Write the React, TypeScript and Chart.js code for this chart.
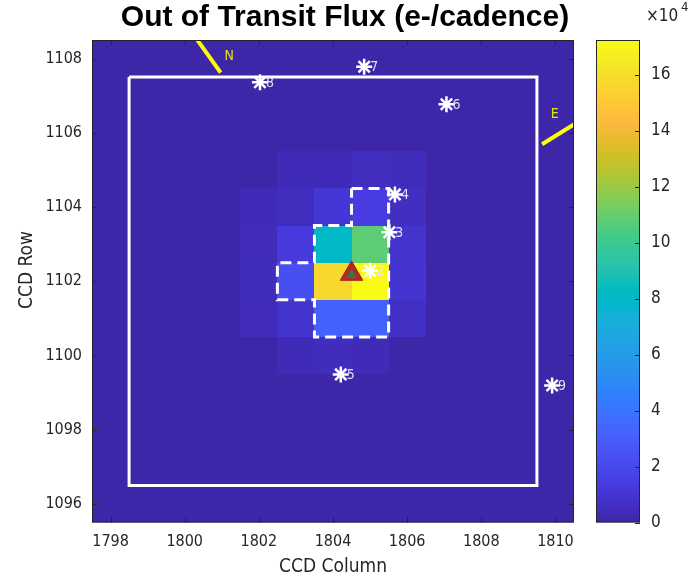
import React, { useEffect, useRef } from 'react';
import { Chart, registerables } from 'chart.js';

Chart.register(...registerables);

// ---------- data ----------
const GRID_COLUMNS = [1798, 1799, 1800, 1801, 1802, 1803, 1804, 1805, 1806, 1807, 1808, 1809, 1810];
const GRID_ROWS = [1096, 1097, 1098, 1099, 1100, 1101, 1102, 1103, 1104, 1105, 1106, 1107, 1108];
const X_TICKS = [1798, 1800, 1802, 1804, 1806, 1808, 1810];
const Y_TICKS = [1096, 1098, 1100, 1102, 1104, 1106, 1108];

// flux (e-/cadence) of the collected pixels; every other pixel is 0
const PIXEL_COLUMNS = [1802, 1803, 1804, 1805, 1806];
const PIXEL_ROWS = [1105, 1104, 1103, 1102, 1101, 1100];
const FLUX_ROW_1105 = [0, 3500, 3500, 5000, 4500];
const FLUX_ROW_1104 = [3500, 5000, 11000, 14000, 6000];
const FLUX_ROW_1103 = [4000, 13000, 81000, 108000, 9000];
const FLUX_ROW_1102 = [4500, 23000, 157000, 172400, 9500];
const FLUX_ROW_1101 = [4000, 9000, 32000, 32000, 6500];
const FLUX_ROW_1100 = [0, 3500, 4500, 3500, 0];
const FLUX_ROWS = [FLUX_ROW_1105, FLUX_ROW_1104, FLUX_ROW_1103, FLUX_ROW_1102, FLUX_ROW_1101, FLUX_ROW_1100];

const COLORBAR_TICKS = [0, 20000, 40000, 60000, 80000, 100000, 120000, 140000, 160000];

// optimal aperture outline (pixel edges)
const APERTURE_X = [1804.5, 1805.5, 1805.5, 1803.5, 1803.5, 1802.5, 1802.5, 1803.5, 1803.5, 1804.5, 1804.5];
const APERTURE_Y = [1104.5, 1104.5, 1100.5, 1100.5, 1101.5, 1101.5, 1102.5, 1102.5, 1103.5, 1103.5, 1104.5];

// mask box
const MASK_X = [1798.5, 1809.5, 1809.5, 1798.5, 1798.5];
const MASK_Y = [1107.5, 1107.5, 1096.5, 1096.5, 1107.5];

// nearby stars
const STAR_IDS = ['2', '3', '4', '5', '6', '7', '8', '9'];
const STAR_COLS = [1805.0, 1805.52, 1805.67, 1804.21, 1807.06, 1804.84, 1802.03, 1809.91];
const STAR_ROWS = [1102.28, 1103.32, 1104.34, 1099.49, 1106.77, 1107.78, 1107.36, 1099.19];

// centroids
const CENTROID_COL = [1804.5];
const CENTROID_ROW = [1102.2];

// compass arrows
const NORTH_X = [1800.27, 1800.97];
const NORTH_Y = [1108.6, 1107.62];
const EAST_X = [1809.64, 1810.6];
const EAST_Y = [1105.69, 1106.29];
const NORTH_LABEL = { x: 1801.2, y: 1108.07, text: 'N' };
const EAST_LABEL = { x: 1809.98, y: 1106.5, text: 'E' };

// ---------- colormap (parula) ----------
const PARULA = [
  [0.2422, 0.1504, 0.6603], [0.2504, 0.1650, 0.7076], [0.2578, 0.1818, 0.7511], [0.2647, 0.1978, 0.7952],
  [0.2706, 0.2147, 0.8364], [0.2751, 0.2342, 0.8710], [0.2783, 0.2559, 0.8991], [0.2803, 0.2782, 0.9221],
  [0.2813, 0.3006, 0.9414], [0.2810, 0.3228, 0.9579], [0.2795, 0.3447, 0.9717], [0.2760, 0.3667, 0.9829],
  [0.2699, 0.3892, 0.9906], [0.2602, 0.4123, 0.9952], [0.2440, 0.4358, 0.9988], [0.2206, 0.4603, 0.9973],
  [0.1963, 0.4847, 0.9892], [0.1834, 0.5074, 0.9798], [0.1786, 0.5289, 0.9682], [0.1764, 0.5499, 0.9520],
  [0.1687, 0.5703, 0.9359], [0.1540, 0.5902, 0.9218], [0.1460, 0.6091, 0.9079], [0.1380, 0.6276, 0.8973],
  [0.1248, 0.6459, 0.8883], [0.1113, 0.6635, 0.8763], [0.0952, 0.6798, 0.8598], [0.0689, 0.6948, 0.8394],
  [0.0297, 0.7082, 0.8163], [0.0036, 0.7203, 0.7917], [0.0067, 0.7312, 0.7660], [0.0433, 0.7411, 0.7394],
  [0.0964, 0.7500, 0.7120], [0.1408, 0.7584, 0.6842], [0.1717, 0.7670, 0.6554], [0.1938, 0.7758, 0.6251],
  [0.2161, 0.7843, 0.5923], [0.2470, 0.7918, 0.5567], [0.2906, 0.7973, 0.5188], [0.3406, 0.8008, 0.4789],
  [0.3909, 0.8029, 0.4354], [0.4456, 0.8024, 0.3909], [0.5044, 0.7993, 0.3480], [0.5616, 0.7942, 0.3045],
  [0.6174, 0.7876, 0.2612], [0.6720, 0.7793, 0.2227], [0.7242, 0.7698, 0.1910], [0.7738, 0.7598, 0.1646],
  [0.8203, 0.7498, 0.1535], [0.8634, 0.7406, 0.1596], [0.9035, 0.7330, 0.1774], [0.9393, 0.7288, 0.2100],
  [0.9728, 0.7298, 0.2394], [0.9956, 0.7434, 0.2371], [0.9970, 0.7659, 0.2199], [0.9952, 0.7893, 0.2028],
  [0.9892, 0.8136, 0.1885], [0.9786, 0.8386, 0.1766], [0.9676, 0.8639, 0.1643], [0.9610, 0.8890, 0.1537],
  [0.9597, 0.9135, 0.1423], [0.9628, 0.9373, 0.1265], [0.9691, 0.9606, 0.1064], [0.9769, 0.9839, 0.0805],
];

function parula(t: number): string {
  const c = Math.max(0, Math.min(1, t)) * (PARULA.length - 1);
  const i = Math.min(PARULA.length - 2, Math.floor(c));
  const f = c - i;
  const a = PARULA[i];
  const b = PARULA[i + 1];
  const r = Math.round(255 * (a[0] + (b[0] - a[0]) * f));
  const g = Math.round(255 * (a[1] + (b[1] - a[1]) * f));
  const bl = Math.round(255 * (a[2] + (b[2] - a[2]) * f));
  return `rgb(${r},${g},${bl})`;
}

const FLUX_MIN = 0;
const FLUX_MAX = Math.max(...FLUX_ROWS.flat());

function fluxAt(col: number, row: number): number {
  const ri = PIXEL_ROWS.indexOf(row);
  const ci = PIXEL_COLUMNS.indexOf(col);
  if (ri < 0 || ci < 0) return 0;
  return FLUX_ROWS[ri][ci];
}

const AXIS_COLOR = '#262626';
const NARROW = '"Liberation Sans Narrow", "DejaVu Sans Condensed", "Liberation Sans", Arial, sans-serif';
const SANS = '"Liberation Sans", Arial, sans-serif';

const heatmapPlugin = {
  id: 'heatmap',
  beforeDatasetsDraw(chart: any) {
    const { ctx, chartArea } = chart;
    const xs = chart.scales.x;
    const ys = chart.scales.y;
    ctx.save();
    ctx.beginPath();
    ctx.rect(chartArea.left, chartArea.top, chartArea.right - chartArea.left, chartArea.bottom - chartArea.top);
    ctx.clip();
    for (const row of GRID_ROWS) {
      for (const col of GRID_COLUMNS) {
        const v = fluxAt(col, row);
        const x0 = Math.round(xs.getPixelForValue(col - 0.5));
        const x1 = Math.round(xs.getPixelForValue(col + 0.5));
        const y0 = Math.round(ys.getPixelForValue(row + 0.5));
        const y1 = Math.round(ys.getPixelForValue(row - 0.5));
        ctx.fillStyle = parula((v - FLUX_MIN) / (FLUX_MAX - FLUX_MIN));
        ctx.fillRect(x0, y0, x1 - x0, y1 - y0);
      }
    }
    ctx.restore();
  },
  afterDatasetsDraw(chart: any) {
    const { ctx, chartArea } = chart;
    const xs = chart.scales.x;
    const ys = chart.scales.y;
    ctx.save();
    ctx.beginPath();
    ctx.rect(chartArea.left, chartArea.top, chartArea.right - chartArea.left, chartArea.bottom - chartArea.top);
    ctx.clip();
    // star labels
    ctx.font = `14px ${NARROW}`;
    ctx.fillStyle = 'rgba(232,232,240,0.95)';
    ctx.textAlign = 'left';
    ctx.textBaseline = 'middle';
    STAR_IDS.forEach((id, i) => {
      ctx.fillText(id, xs.getPixelForValue(STAR_COLS[i]) + 6, ys.getPixelForValue(STAR_ROWS[i]) + 1);
    });
    // compass labels
    ctx.fillStyle = '#E6E600';
    ctx.textAlign = 'center';
    ctx.font = `14px ${NARROW}`;
    for (const l of [NORTH_LABEL, EAST_LABEL]) {
      ctx.fillText(l.text, xs.getPixelForValue(l.x), ys.getPixelForValue(l.y));
    }
    ctx.restore();
  },
  afterDraw(chart: any) {
    const { ctx, chartArea } = chart;
    const xs = chart.scales.x;
    const ys = chart.scales.y;
    const { left, right, top, bottom } = chartArea;
    ctx.save();
    ctx.strokeStyle = AXIS_COLOR;
    ctx.lineWidth = 1;
    ctx.strokeRect(left + 0.5, top + 0.5, right - left - 1, bottom - top - 1);
    ctx.beginPath();
    for (const t of X_TICKS) {
      const px = Math.round(xs.getPixelForValue(t)) + 0.5;
      ctx.moveTo(px, bottom);
      ctx.lineTo(px, bottom - 5);
      ctx.moveTo(px, top);
      ctx.lineTo(px, top + 5);
    }
    for (const t of Y_TICKS) {
      const py = Math.round(ys.getPixelForValue(t)) + 0.5;
      ctx.moveTo(left, py);
      ctx.lineTo(left + 5, py);
      ctx.moveTo(right, py);
      ctx.lineTo(right - 5, py);
    }
    ctx.stroke();
    // title and axis labels
    ctx.fillStyle = '#000';
    ctx.textAlign = 'center';
    ctx.textBaseline = 'middle';
    ctx.font = `bold 30px ${SANS}`;
    ctx.fillText('Out of Transit Flux (e-/cadence)', 345, 18);
    ctx.fillStyle = AXIS_COLOR;
    ctx.font = `19px ${NARROW}`;
    ctx.fillText('CCD Column', (left + right) / 2, 567);
    ctx.translate(27, 270);
    ctx.rotate(-Math.PI / 2);
    ctx.fillText('CCD Row', 0, 0);
    ctx.restore();
  },
};

const colorbarPlugin = {
  id: 'colorbarDecor',
  afterDraw(chart: any) {
    const { ctx, chartArea } = chart;
    const ys = chart.scales.y;
    const { left, right, top, bottom } = chartArea;
    ctx.save();
    ctx.strokeStyle = AXIS_COLOR;
    ctx.lineWidth = 1;
    ctx.strokeRect(left + 0.5, top + 0.5, right - left - 1, bottom - top - 1);
    ctx.beginPath();
    for (const t of COLORBAR_TICKS) {
      const py = Math.round(ys.getPixelForValue(t)) + 0.5;
      ctx.moveTo(right, py);
      ctx.lineTo(right - 5, py);
    }
    ctx.stroke();
    ctx.fillStyle = AXIS_COLOR;
    ctx.textBaseline = 'middle';
    ctx.textAlign = 'left';
    ctx.font = `17px ${NARROW}`;
    ctx.fillText('\u00d710', 66, 17);
    ctx.font = `13px ${NARROW}`;
    ctx.fillText('4', 101, 8);
    ctx.restore();
  },
};

export default function App() {
  const mainRef = useRef<HTMLCanvasElement | null>(null);
  const cbRef = useRef<HTMLCanvasElement | null>(null);

  useEffect(() => {
    if (!mainRef.current || !cbRef.current) return;

    const pts = (xs: number[], ys: number[]) => xs.map((x, i) => ({ x, y: ys[i] }));
    const lineDs = (label: string, data: any[], color: string, width: number, order: number, dash: number[] = []) => ({
      label,
      data,
      showLine: true,
      borderColor: color,
      borderWidth: width,
      borderDash: dash,
      borderCapStyle: 'butt',
      borderJoinStyle: 'miter',
      pointRadius: 0,
      tension: 0,
      fill: false,
      order,
    });

    const main = new Chart(mainRef.current, {
      type: 'scatter',
      data: {
        datasets: [
          {
            label: 'difference centroid',
            data: pts(CENTROID_COL, CENTROID_ROW.map((r) => r - 0.03)),
            pointStyle: 'triangle',
            pointRadius: 5,
            backgroundColor: '#2E7D3A',
            borderColor: '#2E7D3A',
            borderWidth: 1,
            order: 0,
          },
          {
            label: 'out of transit centroid',
            data: pts(CENTROID_COL, CENTROID_ROW),
            pointStyle: 'triangle',
            pointRadius: 13,
            backgroundColor: '#B02A2A',
            borderColor: '#A02626',
            borderWidth: 1,
            order: 1,
          },
          {
            label: 'stars',
            data: pts(STAR_COLS, STAR_ROWS),
            pointStyle: 'star',
            pointRadius: 8,
            borderColor: '#FFFFFF',
            backgroundColor: '#FFFFFF',
            borderWidth: 2.5,
            order: 2,
          },
          lineDs('aperture', pts(APERTURE_X, APERTURE_Y), '#FFFFFF', 3, 3, [11, 6]),
          lineDs('mask', pts(MASK_X, MASK_Y), '#FFFFFF', 3, 4),
          lineDs('north', pts(NORTH_X, NORTH_Y), '#FFFF00', 4, 5),
          lineDs('east', pts(EAST_X, EAST_Y), '#FFFF00', 4, 6),
        ] as any,
      },
      options: {
        responsive: false,
        animation: false,
        devicePixelRatio: 1,
        events: [],
        layout: { padding: { left: 0, top: 40, right: 116, bottom: 0 } },
        plugins: { legend: { display: false }, tooltip: { enabled: false }, title: { display: false } },
        scales: {
          x: {
            type: 'linear',
            min: 1797.5,
            max: 1810.5,
            afterBuildTicks: (s: any) => {
              s.ticks = X_TICKS.map((v) => ({ value: v }));
            },
            afterFit: (s: any) => {
              s.height = 58.5;
            },
            ticks: {
              color: AXIS_COLOR,
              font: { family: NARROW, size: 16 },
              padding: 10,
              maxRotation: 0,
              autoSkip: false,
              callback: (v: any) => String(v),
            },
            grid: { display: false, drawTicks: false },
            border: { display: false },
          },
          y: {
            type: 'linear',
            min: 1095.5,
            max: 1108.5,
            afterBuildTicks: (s: any) => {
              s.ticks = Y_TICKS.map((v) => ({ value: v }));
            },
            afterFit: (s: any) => {
              s.width = 92;
            },
            ticks: {
              color: AXIS_COLOR,
              font: { family: NARROW, size: 16 },
              padding: 10,
              autoSkip: false,
              callback: (v: any) => String(v),
            },
            grid: { display: false, drawTicks: false },
            border: { display: false },
          },
        },
      } as any,
      plugins: [heatmapPlugin],
    });

    const cb = new Chart(cbRef.current, {
      type: 'bar',
      data: {
        labels: ['flux'],
        datasets: [
          {
            label: 'colorbar',
            data: [[FLUX_MIN, FLUX_MAX]],
            barPercentage: 1,
            categoryPercentage: 1,
            borderWidth: 0,
            borderSkipped: false,
            backgroundColor: (c: any) => {
              const area = c.chart.chartArea;
              if (!area) return parula(0.5);
              const g = c.chart.ctx.createLinearGradient(0, area.bottom, 0, area.top);
              PARULA.forEach((_, i) => g.addColorStop(i / (PARULA.length - 1), parula(i / (PARULA.length - 1))));
              return g;
            },
          },
        ] as any,
      },
      options: {
        responsive: false,
        animation: false,
        devicePixelRatio: 1,
        events: [],
        layout: { padding: { left: 16, top: 40, right: 0, bottom: 58.5 } },
        plugins: { legend: { display: false }, tooltip: { enabled: false } },
        scales: {
          x: { display: false },
          y: {
            position: 'right',
            min: FLUX_MIN,
            max: FLUX_MAX,
            afterBuildTicks: (s: any) => {
              s.ticks = COLORBAR_TICKS.map((v) => ({ value: v }));
            },
            afterFit: (s: any) => {
              s.width = 50;
            },
            ticks: {
              color: AXIS_COLOR,
              font: { family: NARROW, size: 17 },
              padding: 11,
              callback: (v: any) => String(Number(v) / 1e4),
            },
            grid: { display: false, drawTicks: false },
            border: { display: false },
          },
        },
      } as any,
      plugins: [colorbarPlugin],
    });

    return () => {
      main.destroy();
      cb.destroy();
    };
  }, []);

  return (
    <div style={{ position: 'fixed', left: 0, top: 0, width: 690, height: 581, background: '#fff' }}>
      <canvas ref={mainRef} width={690} height={581} style={{ position: 'absolute', left: 0, top: 0 }} />
      <canvas ref={cbRef} width={110} height={581} style={{ position: 'absolute', left: 580, top: 0 }} />
    </div>
  );
}
